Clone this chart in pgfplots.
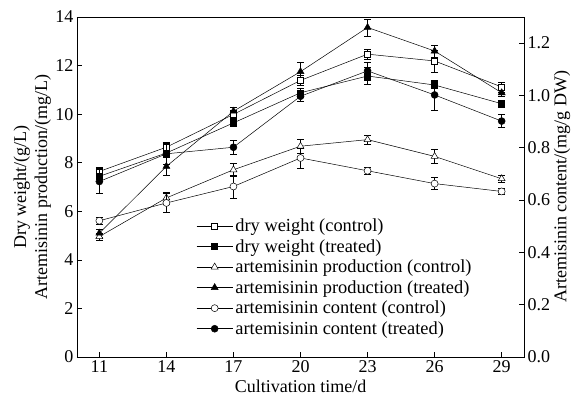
\documentclass[border=0pt]{standalone}
\usepackage{pgfplots}
\pgfplotsset{compat=1.18}
\usepackage{pgfplotstable}
\usepackage{fontspec}
\setmainfont{Liberation Serif}

\pgfplotstableread{
x y e
11 7.64 0.18
14 8.64 0.20
17 9.99 0.15
20 11.39 0.20
23 12.47 0.20
26 12.19 0.45
29 11.12 0.20
}\dwc
\pgfplotstableread{
x y e
11 7.44 0.20
14 8.40 0.45
17 9.64 0.15
20 10.88 0.20
23 11.57 0.35
26 11.20 0.15
29 10.43 0.15
}\dwt
\pgfplotstableread{
x y e
11 4.96 0.15
14 6.55 0.25
17 7.71 0.25
20 8.68 0.30
23 8.95 0.20
26 8.26 0.28
29 7.34 0.15
}\apc
\pgfplotstableread{
x y e
11 5.10 0.15
14 7.85 0.38
17 10.12 0.15
20 11.75 0.40
23 13.57 0.35
26 12.60 0.25
29 10.88 0.15
}\apt
\pgfplotstableread{
x y e
11 0.521 0.014
14 0.589 0.037
17 0.652 0.044
20 0.761 0.038
23 0.712 0.014
26 0.663 0.023
29 0.633 0.011
}\acc
\pgfplotstableread{
x y e
11 0.671 0.045
14 0.777 0.040
17 0.802 0.025
20 0.997 0.020
23 1.094 0.034
26 1.002 0.058
29 0.902 0.025
}\act

\begin{document}
\begin{tikzpicture}
\pgfplotsset{
  every axis/.append style={font=\fontsize{18}{21}\selectfont},
  base/.style={
    width=447pt, height=340pt, scale only axis,
    xmin=10, xmax=30,
    tick align=inside, major tick length=5pt,
    /pgf/number format/assume math mode=true,
    axis line style={line width=0.7pt},
    tick style={black, line width=0.6pt},
  },
  ser/.style={black, line width=0.5pt, solid,
    error bars/y dir=both, error bars/y explicit,
    error bars/error bar style={line width=0.5pt, black, solid},
    error bars/error mark options={rotate=90, mark size=3.5pt, line width=0.5pt, black}},
}
\begin{axis}[base, name=ax,
  ymin=0, ymax=14,
  xtick={11,14,17,20,23,26,29}, ytick={0,2,4,6,8,10,12,14},
  xtick pos=bottom, ytick pos=left,
  xlabel={Cultivation time/d},
  ylabel={Dry weight/(g/L)\\Artemisinin production/(mg/L)},
  ylabel style={align=center, yshift=-2.5pt},
]
\addplot[ser, mark=square*, mark size=3pt, mark options={fill=white, solid}] table[x=x, y=y, y error=e] {\dwc};
\addplot[ser, mark=square*, mark size=3pt, mark options={fill=black, solid}] table[x=x, y=y, y error=e] {\dwt};
\addplot[ser, mark=triangle*, mark size=4pt, mark options={fill=white, solid}] table[x=x, y=y, y error=e] {\apc};
\addplot[ser, mark=triangle*, mark size=4pt, mark options={fill=black, solid}] table[x=x, y=y, y error=e] {\apt};
\end{axis}
\begin{axis}[base,
  ymin=0, ymax=1.3,
  axis x line=none, axis y line*=right,
  ytick={0,0.2,0.4,0.6,0.8,1.0,1.2},
  yticklabel style={/pgf/number format/.cd, fixed, fixed zerofill, precision=1},
  ylabel={Artemisinin content/(mg/g DW)},
  ylabel style={yshift=3pt},
  legend style={at={(0.26,0.416)}, anchor=north west, draw=none, fill=none,
    font=\fontsize{18.4}{21}\selectfont, row sep=4.3pt,
    nodes={inner xsep=2.5pt, inner ysep=1pt, anchor=west}},
  legend cell align=left,
  legend image code/.code={\draw[mark repeat=2, mark phase=2, #1] plot coordinates {(0pt,0pt) (18pt,0pt) (36pt,0pt)};},
]
\addlegendimage{black, line width=0.5pt, mark=square*, mark size=3pt, mark options={fill=white}}
\addlegendentry{dry weight (control)}
\addlegendimage{black, line width=0.5pt, mark=square*, mark size=3pt, mark options={fill=black}}
\addlegendentry{dry weight (treated)}
\addlegendimage{black, line width=0.5pt, mark=triangle*, mark size=4pt, mark options={fill=white}}
\addlegendentry{artemisinin production (control)}
\addlegendimage{black, line width=0.5pt, mark=triangle*, mark size=4pt, mark options={fill=black}}
\addlegendentry{artemisinin production (treated)}
\addplot[ser, mark=*, mark size=3.5pt, mark options={fill=white, solid}] table[x=x, y=y, y error=e] {\acc};
\addlegendentry{artemisinin content (control)}
\addplot[ser, mark=*, mark size=3.5pt, mark options={fill=black, solid}] table[x=x, y=y, y error=e] {\act};
\addlegendentry{artemisinin content (treated)}
\end{axis}
\pgfresetboundingbox
\path ([shift={(-77pt,-45pt)}]ax.south west) rectangle ([shift={(58pt,17pt)}]ax.north east);
\end{tikzpicture}
\end{document}
